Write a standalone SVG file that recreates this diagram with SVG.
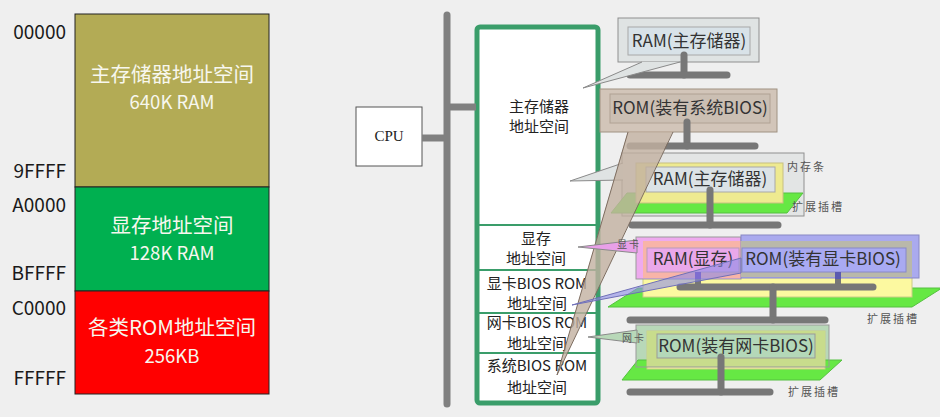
<svg xmlns="http://www.w3.org/2000/svg" width="940" height="417" viewBox="0 0 940 417">
<style>
.addr{font-family:"Noto Sans CJK SC","Liberation Sans",sans-serif;font-size:19px;fill:#1a1a1a;text-anchor:end;}
.big{font-family:"Noto Sans CJK SC","Liberation Sans",sans-serif;font-size:20.5px;fill:#f7f7ee;text-anchor:middle;}
.sub{font-family:"Noto Sans CJK SC","Liberation Sans",sans-serif;font-size:18.5px;fill:#f7f7ee;text-anchor:middle;}
.mem{font-family:"Noto Sans CJK SC","Liberation Sans",sans-serif;font-size:15px;fill:#222;text-anchor:middle;}
.mod{font-family:"Noto Sans CJK SC","Liberation Sans",sans-serif;font-size:17px;fill:#333;text-anchor:middle;}
.lbl{font-family:"Noto Sans CJK SC",sans-serif;font-size:11px;fill:#555;letter-spacing:2px;}
.tiny{font-family:"Noto Sans CJK SC",sans-serif;font-size:10px;fill:#555;letter-spacing:2px;}
.bar{stroke:#777;stroke-width:7;stroke-linecap:round;fill:none;}
.bus{stroke:#808080;stroke-width:7;fill:none;}
.slot{fill:#66e844;stroke:#55c040;stroke-width:1;}
.div{stroke:#3a9d6a;stroke-width:2;}
.co{stroke:#8a8a8a;stroke-width:1;}
</style>
<rect x="0" y="0" width="940" height="417" fill="#efefef"/>

<g id="memory-map">
  <rect x="75" y="14" width="194" height="173" fill="#b3ab55" stroke="#222" stroke-width="1"/>
  <rect x="75" y="187" width="194" height="104" fill="#00b050" stroke="#222" stroke-width="1"/>
  <rect x="75" y="291" width="194" height="103" fill="#ff0000" stroke="#222" stroke-width="1"/>
  <text class="big" x="172" y="82">主存储器地址空间</text>
  <text class="sub" x="172" y="109">640K RAM</text>
  <text class="big" x="172" y="233">显存地址空间</text>
  <text class="sub" x="172" y="260">128K RAM</text>
  <text class="big" x="172" y="335">各类ROM地址空间</text>
  <text class="sub" x="172" y="363">256KB</text>
  <text class="addr" x="66" y="39">00000</text>
  <text class="addr" x="66" y="178">9FFFF</text>
  <text class="addr" x="66" y="212">A0000</text>
  <text class="addr" x="66" y="280">BFFFF</text>
  <text class="addr" x="66" y="315">C0000</text>
  <text class="addr" x="66" y="385">FFFFF</text>
</g>

<g id="cpu">
  <rect x="356" y="107" width="66" height="59" fill="#ffffff" stroke="#555" stroke-width="1"/>
  <text x="389" y="141" font-family="Liberation Serif, serif" font-size="15" fill="#222" text-anchor="middle">CPU</text>
</g>

<g id="address-space">
  <rect x="477" y="27" width="121" height="376" rx="3" fill="#ffffff" stroke="#3a9d6a" stroke-width="5"/>
  <line class="div" x1="479" y1="225" x2="596" y2="225"/>
  <line class="div" x1="479" y1="270" x2="596" y2="270"/>
  <line class="div" x1="479" y1="313" x2="596" y2="313"/>
  <line class="div" x1="479" y1="353" x2="596" y2="353"/>
  <text class="mem" x="539" y="112">主存储器</text>
  <text class="mem" x="539" y="132">地址空间</text>
  <text class="mem" x="536" y="244">显存</text>
  <text class="mem" x="536" y="264">地址空间</text>
  <text class="mem" x="537" y="289">显卡BIOS ROM</text>
  <text class="mem" x="537" y="309">地址空间</text>
  <text class="mem" x="537" y="328">网卡BIOS ROM</text>
  <text class="mem" x="537" y="349">地址空间</text>
  <text class="mem" x="537" y="371">系统BIOS ROM</text>
  <text class="mem" x="537" y="393">地址空间</text>
</g>

<g id="ram-main">
  <rect x="618" y="18" width="141" height="44" fill="#dfe3e3" stroke="#8f8f8f"/>
  <rect x="628" y="27" width="122" height="28" fill="#d8e2e8" stroke="#a8a8a8"/>
  <text class="mod" x="689" y="47">RAM(主存储器)</text>
</g>

<g id="rom-system">
  <rect x="600" y="89" width="177" height="43" fill="#d2c5b9" stroke="#a09282"/>
  <rect x="610" y="94" width="160" height="29" fill="#cbbfb3" stroke="#b0a294"/>
  <text class="mod" x="690" y="114" font-size="16.5">ROM(装有系统BIOS)</text>
</g>

<g id="ram-stick">
  <rect x="622" y="153" width="182" height="63" fill="#e3e5e5" stroke="#8f8f8f"/>
  <polygon class="slot" points="611,213 627,193 803,193 787,213"/>
  <rect x="636" y="163" width="147" height="40" fill="#eeea90" stroke="#c8c080"/>
  <rect x="646" y="167" width="129" height="25" fill="#dce3e6" stroke="#a8a8a8"/>
  <text class="mod" x="710" y="185">RAM(主存储器)</text>
  <text class="lbl" x="787" y="171">内存条</text>
  <text class="lbl" x="792" y="211">扩展插槽</text>
</g>

<g id="video-card">
  <polygon class="slot" points="608,307 638,288 942,288 912,307"/>
  <rect x="643" y="241" width="269" height="56" fill="#fcf9a0" stroke="#cccc88"/>
  <rect x="636" y="237" width="105" height="42" fill="#eeaaee" stroke="#999"/>
  <rect x="643" y="241" width="98" height="37" fill="#f8b4a8"/>
  <rect x="647" y="248" width="92" height="24" fill="#eaa8ea" stroke="#b89cb8"/>
  <rect x="741" y="235" width="178" height="43" fill="#aaaaee" stroke="#8888c4"/>
  <rect x="741" y="241" width="171" height="36" fill="#b9b8aa"/>
  <rect x="742" y="248" width="164" height="24" fill="#a9aaf2" stroke="#8888c8"/>
  <text class="mod" x="693" y="265">RAM(显存)</text>
  <text class="mod" x="823" y="265">ROM(装有显卡BIOS)</text>
  <text class="lbl" x="867" y="323">扩展插槽</text>
</g>

<g id="network-card">
  <rect x="636" y="325" width="193" height="42" fill="#b8d8b8"/>
  <polygon class="slot" points="622,380 638,360 842,360 820,380"/>
  <rect x="647" y="331" width="178" height="38" fill="#f5f5a0" stroke="#cccc88"/>
  <rect x="647" y="331" width="178" height="36" fill="#c8dc8c"/>
  <rect x="636" y="325" width="193" height="42" fill="none" stroke="#999"/>
  <rect x="657" y="334" width="158" height="24" fill="#b4d8b8" stroke="#999"/>
  <text class="mod" x="736" y="352">ROM(装有网卡BIOS)</text>
  <text class="lbl" x="788" y="396">扩展插槽</text>
</g>

<g id="connectors">
  <line class="bus" x1="447" y1="15" x2="447" y2="404" stroke-linecap="round" stroke-width="6"/>
  <line class="bus" x1="422" y1="138" x2="447" y2="138"/>
  <line class="bus" x1="447" y1="107" x2="476" y2="107"/>
  <line class="bar" x1="684" y1="55" x2="684" y2="75"/>
  <line class="bar" x1="630" y1="75" x2="727" y2="75"/>
  <line class="bar" x1="687" y1="122" x2="687" y2="146"/>
  <line class="bar" x1="630" y1="146" x2="755" y2="146"/>
  <line class="bar" x1="710" y1="190" x2="710" y2="225"/>
  <line class="bar" x1="632" y1="225" x2="778" y2="225"/>
  <line x1="698" y1="272" x2="698" y2="279" stroke="#6a3fb0" stroke-width="6"/>
  <line x1="838" y1="272" x2="838" y2="279" stroke="#5a5ab0" stroke-width="6"/>
  <line x1="698" y1="279" x2="698" y2="287" stroke="#777" stroke-width="6"/>
  <line x1="838" y1="279" x2="838" y2="287" stroke="#777" stroke-width="6"/>
  <line class="bar" x1="680" y1="287" x2="873" y2="287"/>
  <line class="bar" x1="773" y1="287" x2="773" y2="320"/>
  <line class="bar" x1="630" y1="320" x2="825" y2="320"/>
  <line class="bar" x1="721" y1="357" x2="721" y2="392"/>
  <line class="bar" x1="630" y1="392" x2="770" y2="392"/>
</g>

<g id="callouts">
  <polygon points="583,88 642,62 680,62" fill="#dfe3e3"/>
  <polyline points="642,62 583,88 680,62" class="co" fill="none"/>
  <polygon points="570,181 623,163 623,180" fill="#dfe3e3"/>
  <polyline points="623,163 570,181 623,180" class="co" fill="none"/>
  <polygon points="628,131 673,131 557,375" fill="#c2b0a0" fill-opacity="0.8"/>
  <polyline points="628,132 557,375 673,132" fill="none" stroke="#7d6d60" stroke-width="1"/>
  <polygon points="578,247 637,240 637,253" fill="#e8a0e8" class="co"/>
  <polygon points="572,305 741,258 741,273" fill="#8c8ce6" fill-opacity="0.6" stroke="#7070b8" stroke-width="1"/>
  <polygon points="588,337 637,330 637,343" fill="#b8d8b8" class="co"/>
  <text class="tiny" x="617" y="248" fill="#7a307a">显卡</text>
  <text class="tiny" x="622" y="342">网卡</text>
</g>
</svg>
